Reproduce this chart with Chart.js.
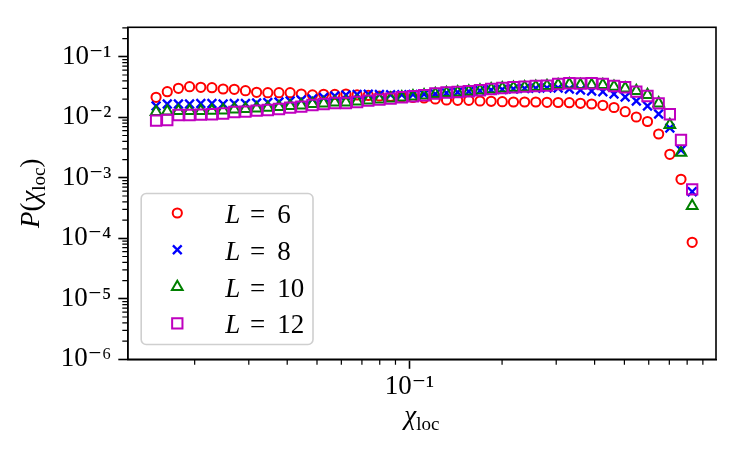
<!DOCTYPE html>
<html>
<head>
<meta charset="utf-8">
<title>P(chi_loc)</title>
<script src="https://cdn.jsdelivr.net/npm/chart.js@4.4.1/dist/chart.umd.min.js"></script>
<style>
html,body{margin:0;padding:0;background:#ffffff;}
#box{position:relative;width:747px;height:462px;}
canvas{display:block;}
</style>
</head>
<body>
<div id="box"><canvas id="chart" width="747" height="462"></canvas></div>
<script>
// ---- data ----
const chiLoc = [0.01498,0.01629,0.01771,0.01925,0.02094,0.02276,0.02475,0.02691,0.02926,0.03181,
  0.03459,0.03761,0.04089,0.04445,0.04833,0.05255,0.05713,0.06211,0.06753,0.07342,
  0.07982,0.08679,0.09436,0.1026,0.1115,0.1213,0.1319,0.1434,0.1559,0.1695,
  0.1843,0.2003,0.2178,0.2368,0.2575,0.2800,0.3044,0.3310,0.3598,0.3912,
  0.4254,0.4625,0.5029,0.5467,0.5944,0.6463,0.7027,0.7640,0.8307];

const pL6 = [0.02141,0.02649,0.03015,0.03204,0.03132,0.03085,0.02936,0.02902,0.02752,0.02589,
  0.0255,0.0255,0.0255,0.02427,0.02337,0.0240,0.02382,0.02427,0.02337,0.02293,
  0.02249,0.02207,0.02165,0.02124,0.02084,0.02006,0.01931,0.0191,0.0191,0.01859,
  0.01838,0.01811,0.0179,0.0179,0.0179,0.0177,0.01756,0.01743,0.01703,0.01659,
  0.01579,0.01452,0.01237,0.01011,0.008517,0.005297,0.002445,0.0009444,0.0000859];

const pL8 = [0.01537,0.01659,0.01659,0.01659,0.0169,0.0169,0.01659,0.0169,0.0169,0.01723,
  0.01756,0.0179,0.01859,0.01931,0.02006,0.02124,0.02249,0.02337,0.02382,0.0240,
  0.02382,0.02361,0.02361,0.02382,0.0240,0.02427,0.02521,0.02589,0.02669,0.02752,
  0.02826,0.0288,0.02936,0.02992,0.03015,0.0305,0.0305,0.02936,0.02826,0.0272,
  0.02649,0.02427,0.02165,0.01859,0.01537,0.01134,0.006652,0.002879,0.000589];

const pL10 = [0.01223,0.01247,0.01271,0.01271,0.01271,0.01285,0.01305,0.01356,0.01371,0.01408,
  0.01441,0.0148,0.01537,0.01579,0.01659,0.01703,0.01756,0.0177,0.01824,0.01895,
  0.01969,0.02045,0.02141,0.02224,0.0231,0.02427,0.02521,0.02589,0.02669,0.02773,
  0.02902,0.03015,0.03085,0.03132,0.03204,0.03291,0.03419,0.03511,0.03419,0.03419,
  0.03419,0.03204,0.03015,0.0272,0.02337,0.01703,0.00746,0.0026,0.000342];

const pL12 = [0.00879,0.009022,0.01091,0.01091,0.01104,0.01121,0.01155,0.01223,0.01237,0.01285,
  0.0132,0.01371,0.01441,0.01497,0.01597,0.01659,0.01723,0.01723,0.0179,0.01881,
  0.01954,0.0203,0.02141,0.02224,0.0231,0.02474,0.02569,0.02619,0.0269,0.02794,
  0.02936,0.0305,0.03132,0.03204,0.03291,0.03329,0.03551,0.03646,0.03619,0.03646,
  0.03551,0.03291,0.03132,0.02649,0.02249,0.01703,0.01121,0.004214,0.000645];

const seriesNames = ['6','8','10','12'];
const yTickValues = [1e-6,1e-5,1e-4,1e-3,1e-2,1e-1];
const yTickLabels = ['10⁻⁶','10⁻⁵','10⁻⁴','10⁻³','10⁻²','10⁻¹'];
const xTickValues = [0.1];
const xTickLabels = ['10⁻¹'];
const xMinorTicks = [0.02,0.03,0.04,0.05,0.06,0.07,0.08,0.09,0.2,0.3,0.4,0.5,0.6,0.7,0.8,0.9];
const yMinorTicks = [];
for (let e = -6; e <= -1; e++) for (let m = 2; m <= 9; m++) yMinorTicks.push(m * Math.pow(10, e));

// ---- styling ----
const SERIF = "'Liberation Serif','DejaVu Serif','Times New Roman',serif";
const FONT_SIZE = 27;
const styles = [
  {color:'#ff0000', pointStyle:'circle',   radius:4.6, width:2.0},
  {color:'#0000ff', pointStyle:'crossRot', radius:6.2, width:2.3},
  {color:'#008000', pointStyle:'triangle', radius:6.2, width:2.0},
  {color:'#bf00bf', pointStyle:'rect',     radius:7.3, width:2.0}
];
const seriesValues = [pL6, pL8, pL10, pL12];

const datasets = seriesValues.map((vals, k) => ({
  label: 'L = ' + seriesNames[k],
  data: chiLoc.map((x, i) => ({x: x, y: vals[i]})),
  showLine: false,
  pointStyle: styles[k].pointStyle,
  pointRadius: styles[k].radius,
  pointHoverRadius: styles[k].radius,
  pointBorderWidth: styles[k].width,
  pointHoverBorderWidth: styles[k].width,
  pointBorderColor: styles[k].color,
  pointBackgroundColor: 'rgba(0,0,0,0)',
  borderColor: styles[k].color,
  backgroundColor: 'rgba(0,0,0,0)',
  order: 4 - k
}));

function drawPieces(ctx, pieces, x0, baseY) {
  let x = x0;
  pieces.forEach(p => {
    const size = p.sub ? 19 : FONT_SIZE;
    ctx.font = (p.italic ? 'italic ' : '') + size + 'px ' + SERIF;
    ctx.fillText(p.t, x, baseY + (p.sub ? 6 : 0));
    x += ctx.measureText(p.t).width;
  });
}
function piecesWidth(ctx, pieces) {
  let w = 0;
  pieces.forEach(p => {
    const size = p.sub ? 19 : FONT_SIZE;
    ctx.font = (p.italic ? 'italic ' : '') + size + 'px ' + SERIF;
    w += ctx.measureText(p.t).width;
  });
  return w;
}

function drawMarker(ctx, st, x, y) {
  ctx.save();
  ctx.strokeStyle = st.color;
  ctx.fillStyle = 'rgba(0,0,0,0)';
  ctx.lineWidth = st.width;
  if (Chart.helpers && Chart.helpers.drawPoint) {
    Chart.helpers.drawPoint(ctx, {pointStyle: st.pointStyle, radius: st.radius, rotation: 0, borderWidth: st.width}, x, y);
  }
  ctx.restore();
}

const decor = {
  id: 'decor',
  afterDraw(chart) {
    const ctx = chart.ctx, a = chart.chartArea, xs = chart.scales.x, ys = chart.scales.y;
    ctx.save();
    // minor ticks
    ctx.strokeStyle = '#000';
    ctx.lineWidth = 1.2;
    ctx.beginPath();
    xMinorTicks.forEach(v => {
      const px = xs.getPixelForValue(v);
      if (px > a.left && px < a.right) { ctx.moveTo(px, a.bottom); ctx.lineTo(px, a.bottom + 5.5); }
    });
    yMinorTicks.forEach(v => {
      const py = ys.getPixelForValue(v);
      if (py > a.top && py < a.bottom) { ctx.moveTo(a.left, py); ctx.lineTo(a.left - 5.5, py); }
    });
    ctx.stroke();
    // frame
    ctx.lineWidth = 1.6;
    ctx.strokeRect(a.left, a.top, a.right - a.left, a.bottom - a.top);

    // axis titles
    ctx.fillStyle = '#000';
    ctx.textBaseline = 'alphabetic';
    ctx.textAlign = 'left';
    const xt = [{t:'χ', italic:true}, {t:'loc', sub:true}];
    const wx = piecesWidth(ctx, xt);
    drawPieces(ctx, xt, (a.left + a.right) / 2 - wx / 2, 424);
    const yt = [{t:'P', italic:true}, {t:'('}, {t:'χ', italic:true}, {t:'loc', sub:true}, {t:')'}];
    const wy = piecesWidth(ctx, yt);
    ctx.save();
    ctx.translate(39, (a.top + a.bottom) / 2);
    ctx.rotate(-Math.PI / 2);
    drawPieces(ctx, yt, -wy / 2, 0);
    ctx.restore();

    // legend
    const lx = 141.2, ly = 193.5, lw = 171.8, lh = 151;
    ctx.beginPath();
    if (ctx.roundRect) ctx.roundRect(lx, ly, lw, lh, 5); else ctx.rect(lx, ly, lw, lh);
    ctx.fillStyle = 'rgba(255,255,255,0.8)';
    ctx.fill();
    ctx.strokeStyle = '#cfcfcf';
    ctx.lineWidth = 1.6;
    ctx.stroke();
    const rowY = [213, 249.7, 287, 323.3];
    styles.forEach((st, k) => {
      drawMarker(ctx, st, 177.3, rowY[k]);
      ctx.fillStyle = '#000';
      ctx.textBaseline = 'alphabetic';
      const base = rowY[k] + 10;
      ctx.font = 'italic ' + FONT_SIZE + 'px ' + SERIF;
      ctx.fillText('L', 225.3, base);
      ctx.font = FONT_SIZE + 'px ' + SERIF;
      ctx.fillText('=', 250, base);
      ctx.fillText(seriesNames[k], 277.3, base);
    });
    ctx.restore();
  }
};

new Chart(document.getElementById('chart'), {
  type: 'scatter',
  data: { datasets: datasets },
  options: {
    responsive: false,
    animation: false,
    events: [],
    layout: { padding: { left: 0, top: 27.3, right: 31, bottom: 0 } },
    plugins: { legend: { display: false }, tooltip: { enabled: false }, title: { display: false } },
    scales: {
      x: {
        type: 'logarithmic',
        position: 'bottom',
        min: 0.01212,
        max: 0.993,
        afterBuildTicks: s => { s.ticks = xTickValues.map(v => ({value: v})); },
        afterFit: s => { s.height = 102.7; },
        grid: { display: true, drawOnChartArea: false, drawTicks: true, tickLength: 9.5, tickWidth: 1.6, tickColor: '#000' },
        border: { display: true, color: '#000', width: 1.6 },
        ticks: {
          autoSkip: false, maxRotation: 0, padding: 2, color: '#000',
          font: { family: SERIF, size: FONT_SIZE },
          callback: v => { const i = xTickValues.indexOf(v); return i >= 0 ? xTickLabels[i] : ''; }
        },
        title: { display: false }
      },
      y: {
        type: 'logarithmic',
        position: 'left',
        min: 1e-6,
        max: 0.307,
        afterBuildTicks: s => { s.ticks = yTickValues.map(v => ({value: v})); },
        afterFit: s => { s.width = 127.8; },
        grid: { display: true, drawOnChartArea: false, drawTicks: true, tickLength: 9.5, tickWidth: 1.6, tickColor: '#000' },
        border: { display: true, color: '#000', width: 1.6 },
        ticks: {
          autoSkip: false, padding: 7, color: '#000',
          font: { family: SERIF, size: FONT_SIZE },
          callback: v => { const i = yTickValues.indexOf(v); return i >= 0 ? yTickLabels[i] : ''; }
        },
        title: { display: false }
      }
    }
  },
  plugins: [decor]
});
</script>
</body>
</html>
